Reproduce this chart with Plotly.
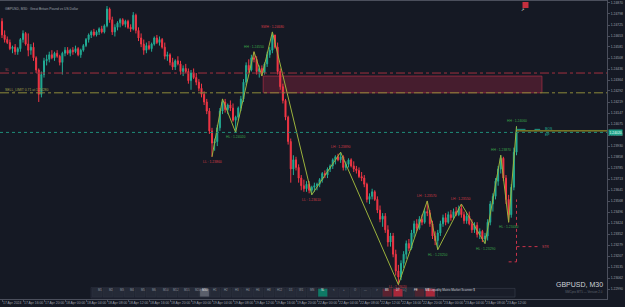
import plotly.graph_objects as go

SYMBOL = "GBPUSD, M30"
DESCRIPTION = "Great Britain Pound vs US Dollar"

OPEN = [
    1.2475, 1.2466, 1.2463, 1.2461, 1.2457, 1.2458, 1.2455, 1.2457, 1.2463, 1.2467,
    1.2460, 1.2456, 1.2458, 1.2451, 1.2443, 1.2427, 1.2440, 1.2449, 1.2450, 1.2453,
    1.2451, 1.2454, 1.2452, 1.2448, 1.2454, 1.2456, 1.2454, 1.2456, 1.2455, 1.2457,
    1.2453, 1.2456, 1.2459, 1.2463, 1.2466, 1.2468, 1.2466, 1.2468, 1.2470, 1.2468,
    1.2472, 1.2483, 1.2476, 1.2468, 1.2471, 1.2474, 1.2476, 1.2473, 1.2475, 1.2471,
    1.2470, 1.2479, 1.2469, 1.2464, 1.2460, 1.2456, 1.2459, 1.2457, 1.2460, 1.2464,
    1.2461, 1.2463, 1.2458, 1.2452, 1.2453, 1.2448, 1.2445, 1.2449, 1.2447, 1.2442,
    1.2444, 1.2442, 1.2436, 1.2441, 1.2438, 1.2435, 1.2431, 1.2427, 1.2422, 1.2416,
    1.2403, 1.2395, 1.2396, 1.2405, 1.2416, 1.2422, 1.2417, 1.2420, 1.2418, 1.2410,
    1.2412, 1.2418, 1.2424, 1.2435, 1.2446, 1.2443, 1.2451, 1.2450, 1.2442, 1.2444,
    1.2441, 1.2447, 1.2453, 1.2456, 1.2466, 1.2458, 1.2442, 1.2432, 1.2423, 1.2412,
    1.2396, 1.2378, 1.2384, 1.2379, 1.2372, 1.2367, 1.2365, 1.2368, 1.2364, 1.2366,
    1.2367, 1.2368, 1.2371, 1.2375, 1.2374, 1.2378, 1.2380, 1.2384, 1.2386, 1.2384,
    1.2386, 1.2379, 1.2381, 1.2384, 1.2380, 1.2378, 1.2377, 1.2373, 1.2372, 1.2368,
    1.2358, 1.2360, 1.2363, 1.2358, 1.2351, 1.2345, 1.2347, 1.2338, 1.2330, 1.2334,
    1.2322, 1.2311, 1.2307, 1.2316, 1.2322, 1.2329, 1.2326, 1.2336, 1.2342, 1.2339,
    1.2345, 1.2343, 1.2350, 1.2349, 1.2342, 1.2334, 1.2331, 1.2336, 1.2342, 1.2346,
    1.2343, 1.2348, 1.2346, 1.2350, 1.2348, 1.2352, 1.2348, 1.2344, 1.2347, 1.2342,
    1.2338, 1.2341, 1.2335, 1.2337, 1.2332, 1.2334, 1.2343, 1.2355, 1.2360, 1.2370,
    1.2378, 1.2385, 1.2372, 1.2358, 1.2348, 1.2366, 1.2389,
]
HIGH = [
    1.2477, 1.2469, 1.2465, 1.2463, 1.2459, 1.2460, 1.2458, 1.2464, 1.2469, 1.2468,
    1.2467, 1.2460, 1.2461, 1.2452, 1.2444, 1.2442, 1.2451, 1.2453, 1.2455, 1.2456,
    1.2455, 1.2456, 1.2453, 1.2455, 1.2458, 1.2458, 1.2457, 1.2458, 1.2459, 1.2458,
    1.2457, 1.2460, 1.2464, 1.2467, 1.2469, 1.2470, 1.2469, 1.2471, 1.2472, 1.2473,
    1.2485, 1.2484, 1.2478, 1.2473, 1.2475, 1.2477, 1.2477, 1.2476, 1.2476, 1.2473,
    1.2481, 1.2480, 1.2471, 1.2467, 1.2463, 1.2461, 1.2462, 1.2461, 1.2465, 1.2466,
    1.2465, 1.2464, 1.2461, 1.2455, 1.2454, 1.2451, 1.2450, 1.2452, 1.2449, 1.2446,
    1.2447, 1.2444, 1.2443, 1.2444, 1.2441, 1.2437, 1.2434, 1.2429, 1.2424, 1.2418,
    1.2405, 1.2398, 1.2407, 1.2418, 1.2424, 1.2424, 1.2421, 1.2423, 1.2421, 1.2413,
    1.2419, 1.2426, 1.2437, 1.2448, 1.2450, 1.2453, 1.2455, 1.2452, 1.2446, 1.2446,
    1.2448, 1.2455, 1.2458, 1.2468, 1.2466, 1.2461, 1.2444, 1.2434, 1.2424, 1.2413,
    1.2398, 1.2387, 1.2386, 1.2381, 1.2374, 1.2371, 1.2370, 1.2370, 1.2367, 1.2369,
    1.2369, 1.2372, 1.2376, 1.2377, 1.2379, 1.2381, 1.2385, 1.2387, 1.2388, 1.2389,
    1.2387, 1.2383, 1.2385, 1.2385, 1.2383, 1.2380, 1.2379, 1.2376, 1.2374, 1.2369,
    1.2362, 1.2365, 1.2364, 1.2360, 1.2354, 1.2349, 1.2349, 1.2341, 1.2336, 1.2336,
    1.2325, 1.2315, 1.2318, 1.2324, 1.2331, 1.2332, 1.2338, 1.2344, 1.2345, 1.2347,
    1.2348, 1.2352, 1.2357, 1.2351, 1.2344, 1.2337, 1.2338, 1.2344, 1.2348, 1.2349,
    1.2350, 1.2351, 1.2352, 1.2353, 1.2354, 1.2355, 1.2350, 1.2349, 1.2350, 1.2345,
    1.2343, 1.2343, 1.2339, 1.2338, 1.2336, 1.2345, 1.2357, 1.2362, 1.2372, 1.2380,
    1.2387, 1.2386, 1.2374, 1.2361, 1.2368, 1.2392, 1.2406,
]
LOW = [
    1.2464, 1.2461, 1.2460, 1.2456, 1.2454, 1.2453, 1.2453, 1.2455, 1.2461, 1.2459,
    1.2452, 1.2453, 1.2449, 1.2441, 1.2422, 1.2425, 1.2438, 1.2446, 1.2448, 1.2450,
    1.2449, 1.2451, 1.2446, 1.2440, 1.2452, 1.2453, 1.2452, 1.2453, 1.2454, 1.2452,
    1.2451, 1.2455, 1.2458, 1.2461, 1.2464, 1.2465, 1.2465, 1.2466, 1.2467, 1.2467,
    1.2471, 1.2474, 1.2466, 1.2465, 1.2469, 1.2471, 1.2472, 1.2471, 1.2470, 1.2468,
    1.2469, 1.2467, 1.2462, 1.2458, 1.2453, 1.2454, 1.2456, 1.2455, 1.2459, 1.2460,
    1.2459, 1.2457, 1.2450, 1.2449, 1.2446, 1.2443, 1.2443, 1.2446, 1.2440, 1.2439,
    1.2441, 1.2434, 1.2430, 1.2437, 1.2433, 1.2429, 1.2425, 1.2420, 1.2414, 1.2401,
    1.2386, 1.2390, 1.2393, 1.2403, 1.2414, 1.2415, 1.2414, 1.2416, 1.2409, 1.2402,
    1.2410, 1.2416, 1.2422, 1.2433, 1.2441, 1.2442, 1.2448, 1.2440, 1.2438, 1.2439,
    1.2440, 1.2445, 1.2451, 1.2454, 1.2457, 1.2440, 1.2430, 1.2421, 1.2410, 1.2394,
    1.2369, 1.2374, 1.2377, 1.2369, 1.2364, 1.2363, 1.2363, 1.2362, 1.2361, 1.2363,
    1.2364, 1.2366, 1.2369, 1.2372, 1.2372, 1.2376, 1.2378, 1.2381, 1.2383, 1.2382,
    1.2377, 1.2377, 1.2379, 1.2379, 1.2376, 1.2375, 1.2372, 1.2370, 1.2366, 1.2356,
    1.2355, 1.2358, 1.2357, 1.2349, 1.2343, 1.2340, 1.2336, 1.2327, 1.2327, 1.2320,
    1.2308, 1.2302, 1.2305, 1.2313, 1.2319, 1.2324, 1.2325, 1.2333, 1.2337, 1.2338,
    1.2341, 1.2342, 1.2347, 1.2340, 1.2332, 1.2328, 1.2325, 1.2334, 1.2340, 1.2341,
    1.2342, 1.2344, 1.2345, 1.2347, 1.2347, 1.2346, 1.2342, 1.2342, 1.2341, 1.2336,
    1.2336, 1.2333, 1.2332, 1.2330, 1.2329, 1.2331, 1.2341, 1.2350, 1.2358, 1.2367,
    1.2375, 1.2370, 1.2355, 1.2343, 1.2346, 1.2364, 1.2387,
]
CLOSE = [
    1.2466, 1.2463, 1.2461, 1.2457, 1.2458, 1.2455, 1.2457, 1.2463, 1.2467, 1.2460,
    1.2456, 1.2458, 1.2451, 1.2443, 1.2427, 1.2440, 1.2449, 1.2450, 1.2453, 1.2451,
    1.2454, 1.2452, 1.2448, 1.2454, 1.2456, 1.2454, 1.2456, 1.2455, 1.2457, 1.2453,
    1.2456, 1.2459, 1.2463, 1.2466, 1.2468, 1.2466, 1.2468, 1.2470, 1.2468, 1.2472,
    1.2483, 1.2476, 1.2468, 1.2471, 1.2474, 1.2476, 1.2473, 1.2475, 1.2471, 1.2470,
    1.2479, 1.2469, 1.2464, 1.2460, 1.2456, 1.2459, 1.2457, 1.2460, 1.2464, 1.2461,
    1.2463, 1.2458, 1.2452, 1.2453, 1.2448, 1.2445, 1.2449, 1.2447, 1.2442, 1.2444,
    1.2442, 1.2436, 1.2441, 1.2438, 1.2435, 1.2431, 1.2427, 1.2422, 1.2416, 1.2403,
    1.2395, 1.2396, 1.2405, 1.2416, 1.2422, 1.2417, 1.2420, 1.2418, 1.2410, 1.2412,
    1.2418, 1.2424, 1.2435, 1.2446, 1.2443, 1.2451, 1.2450, 1.2442, 1.2444, 1.2441,
    1.2447, 1.2453, 1.2456, 1.2466, 1.2458, 1.2442, 1.2432, 1.2423, 1.2412, 1.2396,
    1.2378, 1.2384, 1.2379, 1.2372, 1.2367, 1.2365, 1.2368, 1.2364, 1.2366, 1.2367,
    1.2368, 1.2371, 1.2375, 1.2374, 1.2378, 1.2380, 1.2384, 1.2386, 1.2384, 1.2386,
    1.2379, 1.2381, 1.2384, 1.2380, 1.2378, 1.2377, 1.2373, 1.2372, 1.2368, 1.2358,
    1.2360, 1.2363, 1.2358, 1.2351, 1.2345, 1.2347, 1.2338, 1.2330, 1.2334, 1.2322,
    1.2311, 1.2307, 1.2316, 1.2322, 1.2329, 1.2326, 1.2336, 1.2342, 1.2339, 1.2345,
    1.2343, 1.2350, 1.2349, 1.2342, 1.2334, 1.2331, 1.2336, 1.2342, 1.2346, 1.2343,
    1.2348, 1.2346, 1.2350, 1.2348, 1.2352, 1.2348, 1.2344, 1.2347, 1.2342, 1.2338,
    1.2341, 1.2335, 1.2337, 1.2332, 1.2334, 1.2343, 1.2355, 1.2360, 1.2370, 1.2378,
    1.2385, 1.2372, 1.2358, 1.2348, 1.2366, 1.2389, 1.2402,
]

TIME_LABELS = [
    "17 Apr 2024", "17 Apr 16:00", "17 Apr 20:00", "18 Apr 00:00", "18 Apr 04:00",
    "18 Apr 08:00", "18 Apr 12:00", "18 Apr 16:00", "18 Apr 20:00", "19 Apr 00:00",
    "19 Apr 04:00", "19 Apr 08:00", "19 Apr 12:00", "19 Apr 16:00", "19 Apr 20:00",
    "22 Apr 00:00", "22 Apr 04:00", "22 Apr 08:00", "22 Apr 12:00", "22 Apr 16:00",
    "22 Apr 20:00", "23 Apr 00:00", "23 Apr 04:00", "23 Apr 08:00", "23 Apr 12:00",
]
TIME_LABEL_BARS = [0, 8, 16, 24, 32, 40, 48, 56, 64, 72, 80, 88, 96, 104, 112,
                   120, 128, 136, 144, 152, 160, 168, 176, 184, 192]

PRICE_TICKS = [
    "1.24870", "1.24798", "1.24725", "1.24653", "1.24581", "1.24508", "1.24436",
    "1.24364", "1.24292", "1.24219", "1.24147", "1.24075", "1.24002", "1.23930",
    "1.23858", "1.23785", "1.23713", "1.23641", "1.23568", "1.23496", "1.23424",
    "1.23352", "1.23279", "1.23207", "1.23135", "1.23062", "1.22990",
]

# market-structure zigzag pivots (bar index, high/low, name)
ZZ_BARS = [80, 84, 89, 96, 99, 103, 118, 129, 151, 162, 166, 175, 184, 190, 193, 196]
ZZ_KINDS = ["L", "H", "L", "H", "L", "H", "L", "H", "L", "H", "L", "H", "L", "H", "L", "H"]
ZZ_NAMES = ["LL", "", "HL", "HH", "", "SWH", "LL", "LH", "LL", "LH", "HL", "LH", "HL", "HH", "HL", "HH"]

SL_PRICE = 1.2441
SELL_LIMIT_PRICE = 1.2428
SELL_LOTS = 0.71
ZONE_LOW = 1.2428
ZONE_HIGH = 1.2439
ZONE_BARS = [99.5, 205.7]
BOS_PRICE = 1.2404
STR_PRICE = 1.2327
STR_LOW = 1.2317

TOOLBAR = ["M1", "M2", "M3", "M4", "M5", "M6", "M10", "M12", "M15", "M20", "M30",
           "H1", "H2", "H3", "H4", "H6", "H8", "H12", "D1", "W1", "MN",
           "SL", "<", "+", "O", "—", ">", "BS", "DT", "LQ", "FE", "NS"]
TOOLBAR_FILL = {"M30": "#5b5f6b", "SL": "#0e7a65", "BS": "#5c2230", "DT": "#a8283a",
                "FE": "#4e2430", "NS": "#a8283a"}

# ---------------- style ----------------
BG = "#151924"
BULL = "#22ab94"
BEAR = "#f23645"
FRAME = "#4b4f5c"
TXT = "#9da1ab"
FONT = "Liberation Sans, Arial, sans-serif"

PLOT_R, PLOT_T, PLOT_B = 607, 1, 299
BAR_PX, BAR0_PX = 2.625, 2.0


def px(x):
    return x / PLOT_R


def py(y):
    return (PLOT_B - y) / (PLOT_B - PLOT_T)


bars = list(range(len(CLOSE)))
x_range = [(0 - BAR0_PX) / BAR_PX, (PLOT_R - BAR0_PX) / BAR_PX]
y_range = [1.22926, 1.24883]

fig = go.Figure()
fig.add_trace(go.Candlestick(
    x=bars, open=OPEN, high=HIGH, low=LOW, close=CLOSE,
    increasing=dict(line=dict(color=BULL, width=1), fillcolor=BULL),
    decreasing=dict(line=dict(color=BEAR, width=1), fillcolor=BEAR),
    whiskerwidth=0, hoverinfo="skip", showlegend=False,
))

zz_prices = [HIGH[b] if k == "H" else LOW[b] for b, k in zip(ZZ_BARS, ZZ_KINDS)]
fig.add_trace(go.Scatter(x=ZZ_BARS, y=zz_prices, mode="lines",
                         line=dict(color="#9bb23c", width=1), hoverinfo="skip",
                         showlegend=False))

shapes = []
ann = []

# supply zone and order lines
shapes.append(dict(type="rect", xref="x", yref="y", x0=ZONE_BARS[0], x1=ZONE_BARS[1],
                   y0=ZONE_LOW, y1=ZONE_HIGH, fillcolor="rgba(150,38,62,0.38)",
                   line=dict(color="rgba(170,45,70,0.7)", width=1), layer="below"))
shapes.append(dict(type="line", xref="paper", yref="y", x0=0, x1=1, y0=SL_PRICE, y1=SL_PRICE,
                   line=dict(color="#a3303f", width=1, dash="dashdot")))
shapes.append(dict(type="line", xref="paper", yref="y", x0=0, x1=1,
                   y0=SELL_LIMIT_PRICE, y1=SELL_LIMIT_PRICE,
                   line=dict(color="#8c8a3a", width=1, dash="dashdot")))
last = CLOSE[-1]
shapes.append(dict(type="line", xref="paper", yref="y", x0=0, x1=1, y0=last, y1=last,
                   line=dict(color="#1f8c78", width=1, dash="dot")))
shapes.append(dict(type="line", xref="x", yref="y", x0=bars[-1], x1=x_range[1],
                   y0=last + 0.0001, y1=last + 0.0001, line=dict(color="#b2ab2a", width=1)))
shapes.append(dict(type="line", xref="x", yref="y", x0=bars[-1], x1=bars[-1] + 9,
                   y0=BOS_PRICE, y1=BOS_PRICE, line=dict(color="#1f9c86", width=1, dash="dash")))
shapes.append(dict(type="line", xref="x", yref="y", x0=bars[-1], x1=bars[-1] + 8,
                   y0=STR_PRICE, y1=STR_PRICE, line=dict(color="#c8334a", width=1, dash="dot")))
shapes.append(dict(type="line", xref="x", yref="y", x0=bars[-1], x1=bars[-1],
                   y0=STR_LOW, y1=1.2358, line=dict(color="#c8334a", width=1, dash="dot")))
shapes.append(dict(type="line", xref="x", yref="y", x0=bars[-1] - 3, x1=bars[-1],
                   y0=STR_LOW, y1=STR_LOW, line=dict(color="#c8334a", width=1, dash="dot")))

small = dict(family=FONT, size=3.4)

ann.append(dict(xref="paper", yref="y", x=px(3), y=SL_PRICE, yshift=3, text="SL",
                showarrow=False, xanchor="left", font=dict(small, color="#b0404f")))
ann.append(dict(xref="paper", yref="y", x=px(3), y=SELL_LIMIT_PRICE, yshift=3,
                text=f"SELL_LIMIT {SELL_LOTS} at {SELL_LIMIT_PRICE:.5f}",
                showarrow=False, xanchor="left", font=dict(small, color="#a3a24a")))
ann.append(dict(xref="x", yref="y", x=bars[-1] + 10, y=BOS_PRICE, text="BOS", showarrow=False,
                xanchor="left", font=dict(small, color="#22b096")))
ann.append(dict(xref="x", yref="y", x=bars[-1] + 10, y=last - 0.0002, text="EP", showarrow=False,
                xanchor="left", font=dict(small, color="#22b096")))
ann.append(dict(xref="x", yref="y", x=bars[-1] + 9, y=STR_PRICE, text="STR", showarrow=False,
                xanchor="left", font=dict(small, color="#d04050")))

lowest = min(zz_prices)
for b, k, name, p in zip(ZZ_BARS, ZZ_KINDS, ZZ_NAMES, zz_prices):
    if not name:
        continue
    col = "#3aa548" if name in ("HH", "HL") else "#d23a44"
    shift = 5 if k == "H" else -5
    if p == lowest:
        shift = -2.3  # keep clear of the toolbar buttons
    ann.append(dict(xref="x", yref="y", x=b, y=p, yshift=shift, borderpad=0,
                    text=f"{name} : {p:.5f}", showarrow=False,
                    font=dict(family=FONT, size=3.2 if p == lowest else 3.4, color=col)))

# title
ann.append(dict(xref="paper", yref="paper", x=px(3), y=py(5), xanchor="left",
                text=f"{SYMBOL}:  {DESCRIPTION}", showarrow=False,
                font=dict(family=FONT, size=3.3, color=TXT)))

# current price box on the axis
ann.append(dict(xref="paper", yref="y", x=px(608), y=last, xanchor="left",
                text=f"{last:.5f}", showarrow=False, bgcolor="#1fa38a", borderpad=0.5,
                font=dict(family=FONT, size=3.4, color="#e8fff8")))

# top right icon
shapes.append(dict(type="rect", xref="paper", yref="paper", x0=px(522.5), x1=px(528.5),
                   y0=py(8), y1=py(2), fillcolor="#c52f3e", line=dict(width=0)))
ann.append(dict(xref="paper", yref="paper", x=px(525.5), y=py(5), text="↗", showarrow=False,
                font=dict(family=FONT, size=4, color="#ffffff")))

# bottom toolbar
shapes.append(dict(type="rect", xref="paper", yref="paper", x0=px(91), x1=px(436),
                   y0=py(298), y1=py(287.5), fillcolor="#1b1f2b",
                   line=dict(color="#2c3140", width=0.6)))
for i, lab in enumerate(TOOLBAR):
    cx = 97 + 10.75 * i
    fill = TOOLBAR_FILL.get(lab, "#252a37")
    shapes.append(dict(type="rect", xref="paper", yref="paper", x0=px(cx - 4.8), x1=px(cx + 4.8),
                       y0=py(296.8), y1=py(288.6), fillcolor=fill,
                       line=dict(color="#333847", width=0.5)))
    ann.append(dict(xref="paper", yref="paper", x=px(cx), y=py(292.7), text=lab, showarrow=False,
                    borderpad=0,
                    font=dict(family=FONT, size=2.8,
                              color="#e6e6e6" if lab in TOOLBAR_FILL else "#8f939d")))
shapes.append(dict(type="rect", xref="paper", yref="paper", x0=px(437.5), x1=px(515),
                   y0=py(297), y1=py(288.4), fillcolor="#191d29",
                   line=dict(color="#3a3f4d", width=0.6)))
ann.append(dict(xref="paper", yref="paper", x=px(476), y=py(292.7),
                text="$ Liquidity Matrix Market Scanner $", showarrow=False, borderpad=0,
                font=dict(family=FONT, size=3.0, color="#c9ccd3")))

# symbol watermark bottom right
ann.append(dict(xref="paper", yref="paper", x=px(605), y=py(290), xanchor="right",
                text=SYMBOL, showarrow=False, font=dict(family=FONT, size=7, color="#cfd2d8")))
ann.append(dict(xref="paper", yref="paper", x=px(605), y=py(296), xanchor="right",
                text="SMCpro MT5 — Version 2.0", showarrow=False,
                font=dict(family=FONT, size=3, color="#5f636e")))

fig.update_layout(
    width=625, height=307,
    margin=dict(l=0, r=625 - PLOT_R, t=PLOT_T, b=307 - PLOT_B, pad=0),
    paper_bgcolor=BG, plot_bgcolor=BG,
    boxgap=0.45,
    shapes=shapes, annotations=ann,
    showlegend=False,
    xaxis=dict(range=x_range, rangeslider=dict(visible=False), showgrid=False, zeroline=False,
               showline=True, mirror=True, linecolor=FRAME, linewidth=1,
               tickvals=TIME_LABEL_BARS, ticktext=TIME_LABELS, ticks="outside", ticklen=2,
               tickcolor=FRAME, tickangle=0, ticklabelposition="outside right",
               tickfont=dict(family=FONT, size=3.4, color=TXT)),
    yaxis=dict(range=y_range, side="right", showgrid=False, zeroline=False,
               showline=True, mirror=True, linecolor=FRAME, linewidth=1,
               tickvals=[float(t) for t in PRICE_TICKS], ticktext=PRICE_TICKS,
               ticks="outside", ticklen=2, tickcolor=FRAME,
               tickfont=dict(family=FONT, size=3.4, color=TXT)),
)

fig.write_html("out.html")
